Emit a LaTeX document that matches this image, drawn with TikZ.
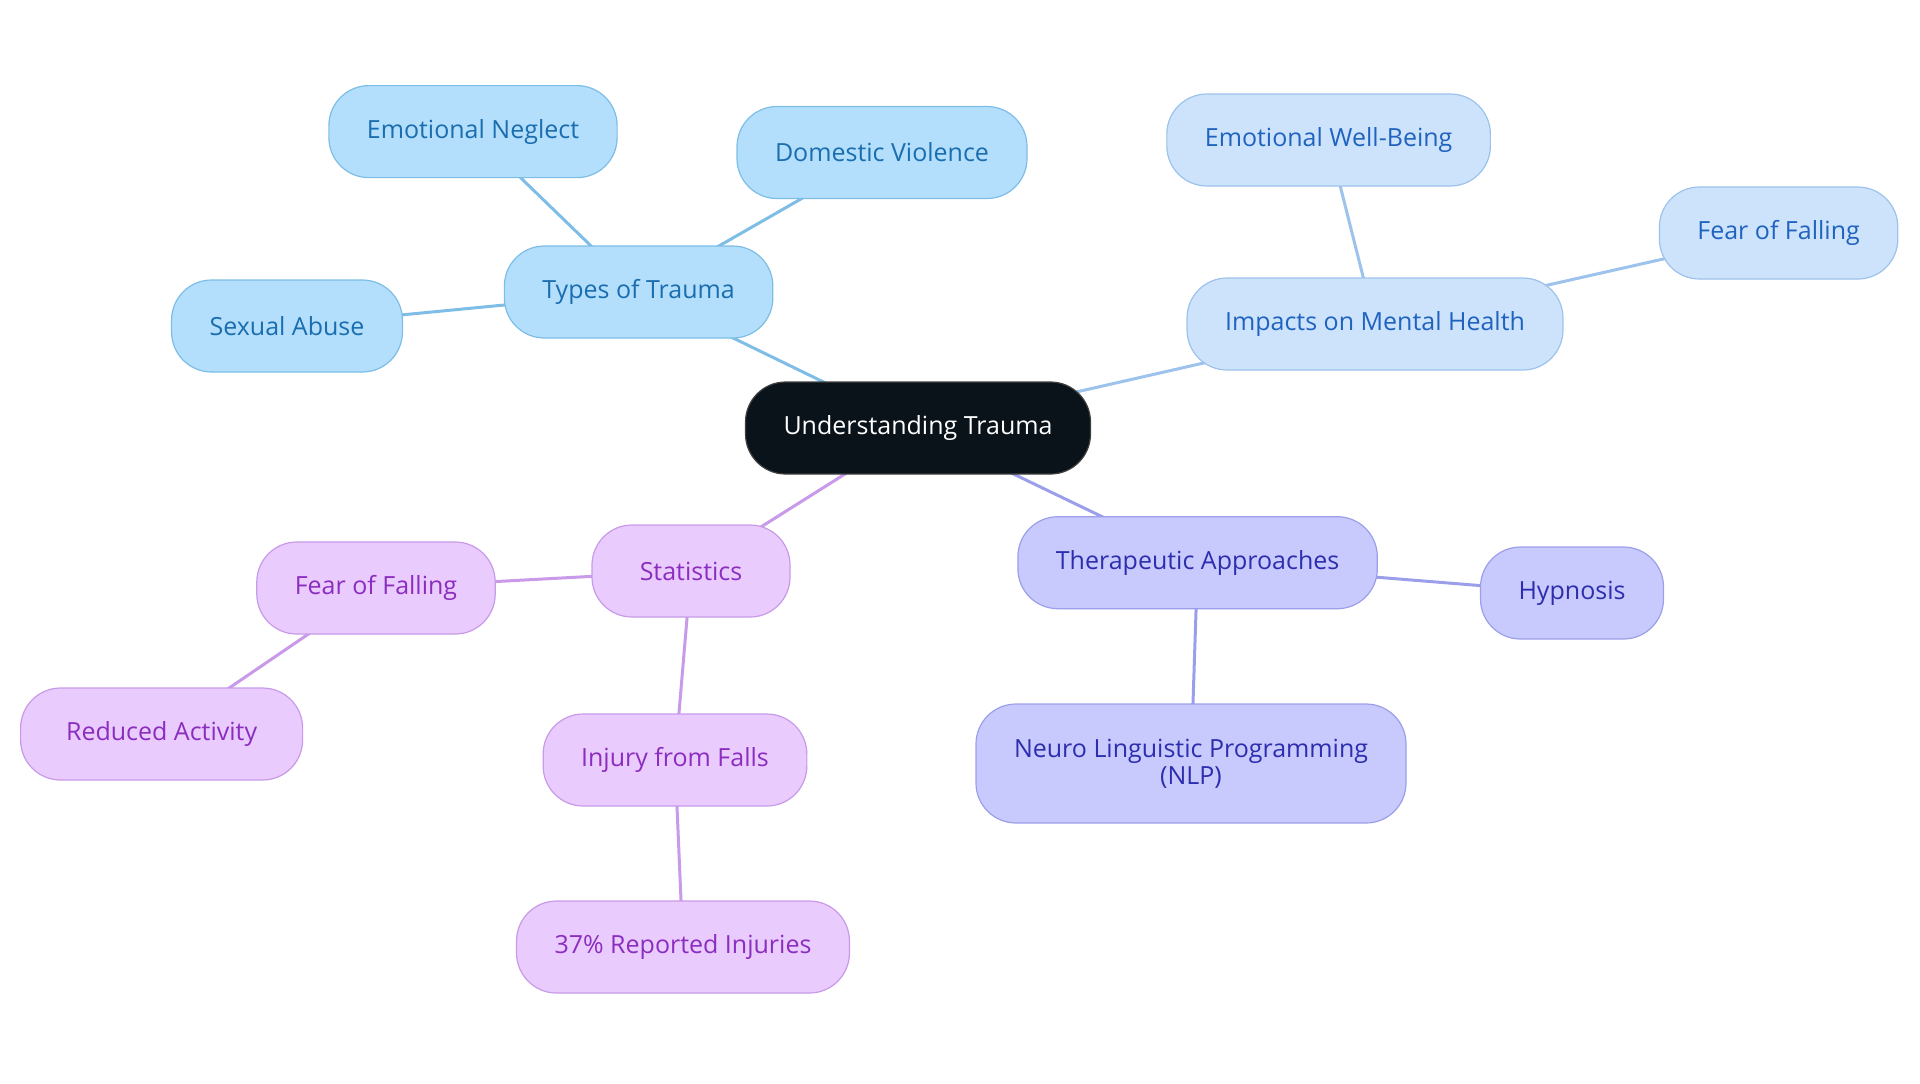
\documentclass[tikz,border=0pt]{standalone}
\usepackage{fontspec}
\setmainfont{Open Sans}
\usetikzlibrary{positioning}
\usetikzlibrary{backgrounds}

\definecolor{rootfill}{HTML}{0B131A}
\definecolor{typesfill}{HTML}{B3DFFC}
\definecolor{typesline}{HTML}{7DBDE6}
\definecolor{typestext}{HTML}{1A6DAE}
\definecolor{mentalfill}{HTML}{CDE3FB}
\definecolor{mentalline}{HTML}{9DC2EC}
\definecolor{mentaltext}{HTML}{1F63BF}
\definecolor{therapyfill}{HTML}{C8CAFD}
\definecolor{therapyline}{HTML}{9B9FEA}
\definecolor{therapytext}{HTML}{2C2EAE}
\definecolor{statsfill}{HTML}{E9CBFD}
\definecolor{statsline}{HTML}{C89AE9}
\definecolor{statstext}{HTML}{8B2DBF}

\tikzset{
    topic/.style={
           rectangle,
           rounded corners=20pt,
           line width=0.6pt,
           minimum height=46pt,
           inner xsep=19pt,
           text centered,
           font=\fontsize{12.5}{13.5}\selectfont
           },
    root/.style={topic, fill=rootfill, draw=black!75, text=white},
    types/.style={topic, fill=typesfill, draw=typesline, text=typestext},
    mental/.style={topic, fill=mentalfill, draw=mentalline, text=mentaltext},
    therapy/.style={topic, fill=therapyfill, draw=therapyline, text=therapytext},
    stats/.style={topic, fill=statsfill, draw=statsline, text=statstext},
    branch/.style={line width=1.5pt},
}

\begin{document}
\begin{tikzpicture}[node distance=2cm, on grid]
   \useasboundingbox (0,0) rectangle (960pt,-541.5pt);
   \node[root] (root) at (459pt,-214pt) {Understanding Trauma};
   % types of trauma
   \node[types] (types) [above left=68pt and 139.7pt of root] {Types of Trauma};
   \node[types] (neglect) [above left=80.2pt and 82.8pt of types] {Emotional Neglect};
   \node[types] (violence) [above right=69.75pt and 121.7pt of types] {Domestic Violence};
   \node[types] (abuse) [below left=17pt and 175.8pt of types] {Sexual Abuse};
   % mental health
   \node[mental] (impacts) [above right=52pt and 228.5pt of root] {Impacts on Mental Health};
   \node[mental] (wellbeing) [above left=92pt and 23.2pt of impacts] {Emotional Well-Being};
   \node[mental] (fearright) [above right=45.5pt and 201.8pt of impacts] {Fear of Falling};
   % therapy
   \node[therapy] (therapy) [below right=67.35pt and 139.8pt of root] {Therapeutic Approaches};
   \node[therapy] (hypnosis) [below right=15.15pt and 187.2pt of therapy] {Hypnosis};
   \node[therapy, align=center, minimum height=59.5pt] (nlp) [below left=100.4pt and 3.3pt of therapy] {Neuro Linguistic Programming\\(NLP)};
   % statistics
   \node[stats, minimum width=99pt] (stats) [below left=71.5pt and 113.5pt of root] {Statistics};
   \node[stats] (fearleft) [below left=8.5pt and 157.5pt of stats] {Fear of Falling};
   \node[stats, minimum width=141pt] (reduced) [below left=73pt and 107.2pt of fearleft] {Reduced Activity};
   \node[stats] (injury) [below left=94.5pt and 8pt of stats] {Injury from Falls};
   \node[stats] (reported) [below right=93.5pt and 4pt of injury] {37\% Reported Injuries};

   \begin{pgfonlayer}{background}
   \path[branch]
    (root.center) edge[typesline] (types.center)
    (types.center) edge[typesline] (neglect.center)
    (types.center) edge[typesline] (violence.center)
    (types.center) edge[typesline] (abuse.center)
    (root.center) edge[mentalline] (impacts.center)
    (impacts.center) edge[mentalline] (wellbeing.center)
    (impacts.center) edge[mentalline] (fearright.center)
    (root.center) edge[therapyline] (therapy.center)
    (therapy.center) edge[therapyline] (hypnosis.center)
    (therapy.center) edge[therapyline] (nlp.center)
    (root.center) edge[statsline] (stats.center)
    (stats.center) edge[statsline] (fearleft.center)
    (fearleft.center) edge[statsline] (reduced.center)
    (stats.center) edge[statsline] (injury.center)
    (injury.center) edge[statsline] (reported.center)
       ;
   \end{pgfonlayer}
\end{tikzpicture}
\end{document}
